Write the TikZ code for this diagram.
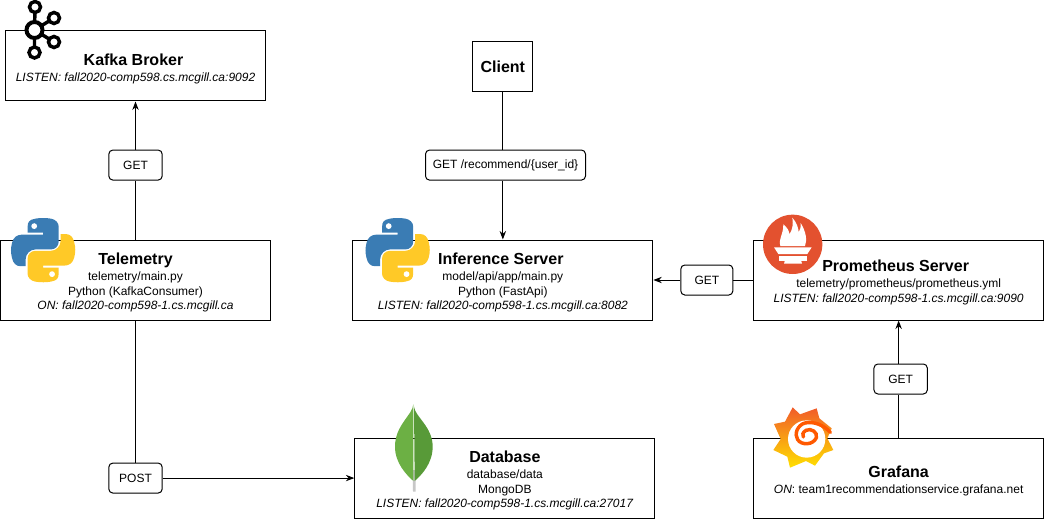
\documentclass[tikz,border=0pt]{standalone}
\usepackage{fontspec}
\setmainfont{Liberation Sans}
\usepackage{xcolor}
\usetikzlibrary{arrows.meta,positioning,calc}
\definecolor{pyblue}{HTML}{3A7CB4}
\definecolor{pyyellow}{HTML}{FFC927}
\definecolor{promorange}{HTML}{E3512F}
\definecolor{leaflight}{HTML}{6CB044}
\definecolor{leafdark}{HTML}{589A38}
\definecolor{grafhigh}{HTML}{F15B2A}
\definecolor{graflow}{HTML}{FFE000}
\newcommand{\boxtitle}[1]{{\fontsize{12}{14}\selectfont\bfseries\rule{0pt}{12.5pt}#1}}
\newcommand{\snakepath}{(54.9,0) .. controls (50.3,0) and (46,.4) .. (42.1,1.1) .. controls (30.8,3.1) and (28.7,7.3) .. (28.7,15) -- (28.7,25.3) -- (55.5,25.3) -- (55.5,28.7) -- (18.6,28.7) .. controls (10.8,28.7) and (4,33.4) .. (1.9,42.3) .. controls (-.6,52.5) and (-.7,58.9) .. (1.9,69.5) .. controls (3.8,77.5) and (8.3,83.1) .. (16.1,83.1) -- (25.3,83.1) -- (25.3,70.9) .. controls (25.3,62) and (33,54.2) .. (42.1,54.2) -- (68.9,54.2) .. controls (76.3,54.2) and (82.3,48.1) .. (82.3,40.6) -- (82.3,15) .. controls (82.3,7.8) and (76.2,2.3) .. (68.9,1.1) .. controls (64.3,.3) and (59.5,0) .. (54.9,0) -- cycle}
% python logo, #1 is its top left corner
\newcommand{\pythonlogo}[1]{
\begin{scope}[shift={#1},scale=.58]
\fill[pyblue] \snakepath;
\fill[white] (40,14) circle (5);
\begin{scope}[rotate around={180:(55.4,55.4)}]
\fill[pyyellow] \snakepath;
\fill[white] (40,14) circle (5);
\end{scope}
\end{scope}}

\begin{document}
\begin{tikzpicture}[x=.75pt,y=-.75pt,font=\fontsize{9}{10.9}\selectfont,>=Stealth,line width=.75pt]
\tikzstyle{blk}=[draw,fill=white,minimum height=60pt,align=center,inner sep=0pt]
\tikzstyle{lbl}=[draw,rounded corners=3pt,fill=white,minimum height=22.5pt,inner sep=0pt]
\tikzstyle{conn}=[->,shorten >=0pt]
\useasboundingbox (0,0) rectangle (1044,520);
\node[blk,minimum width=202.5pt] (telemetry) at (135.5,280) {\boxtitle{Telemetry}\\[1pt]telemetry/main.py\\Python (KafkaConsumer)\\\textit{ON: fall2020-comp598-1.cs.mcgill.ca}};
\node[blk,minimum width=195.5pt,minimum height=52.5pt,above=103.5pt of telemetry] (kafka) {\boxtitle{Kafka Broker\hspace*{3pt}}\\[1pt]\textit{LISTEN: fall2020-comp598.cs.mcgill.ca:9092}};
\node[blk,minimum width=225pt,right=61pt of telemetry] (inference) {\boxtitle{Inference Server\hspace*{3pt}}\\[1pt]model/api/app/main.py\\Python (FastApi)\\\textit{LISTEN: fall2020-comp598-1.cs.mcgill.ca:8082}};
\node[blk,minimum width=45pt,minimum height=37.5pt,font=\fontsize{12}{14}\selectfont\bfseries,above=110.6pt of inference] (client) {Client};
\node[blk,minimum width=217pt,right=75.1pt of inference] (prometheus) {\boxtitle{Prometheus Server\hspace*{4.5pt}}\\[1pt]telemetry/prometheus/prometheus.yml\\\textit{LISTEN: fall2020-comp598-1.cs.mcgill.ca:9090}};
\node[blk,minimum width=225pt,below=87.8pt of inference,xshift=1.5pt] (database) {\boxtitle{Database}\\[1pt]database/data\\MongoDB\\\textit{LISTEN: fall2020-comp598-1.cs.mcgill.ca:27017}};
\node[blk,minimum width=217pt,below=87.8pt of prometheus] (grafana) {\boxtitle{Grafana}\\[1pt]\textit{ON}: team1recommendationservice.grafana.net};

\node[lbl,minimum width=40pt,above=44.2pt of telemetry] (getkafka) {GET};
\node[lbl,minimum width=120pt,above=44.2pt of inference,xshift=2pt] (getclient) {GET /recommend/\{user\_id\}};
\node[lbl,minimum width=39pt,right=20.25pt of inference] (getinference) {GET};
\node[lbl,minimum width=40pt,above=32.3pt of grafana,xshift=1.5pt] (getprometheus) {GET};
\node[lbl,minimum width=40pt] (post) at (telemetry |- database) {POST};

\draw (telemetry)--(getkafka);
\draw[conn] (getkafka)--(kafka);
\draw (client)--(client |- getclient.north);
\draw[conn] (client |- getclient.south)--(inference);
\draw (prometheus)--(getinference);
\draw[conn] (getinference)--(inference);
\draw (grafana)--(grafana |- getprometheus.south);
\draw[conn] (grafana |- getprometheus.north)--(prometheus);
\draw (telemetry)--(post);
\draw[conn] (post)--(database);

% kafka logo
\begin{scope}[line width=2.6pt]
\draw (34.5,30)--(35,7) (34.5,30)--(34.5,52.5) (34.5,30)--(54,18) (34.5,30)--(54,42);
\draw[fill=white,line width=3pt] (34.5,30) circle (8);
\draw[fill=white] (35,7) circle (5.5) (34.5,52.5) circle (5.5) (54,18) circle (5.5) (54,42) circle (5.5);
\end{scope}
\pythonlogo{(11,218)}
\pythonlogo{(365.5,218)}
% prometheus logo
\begin{scope}[shift={(750,205)},scale=1/3]
\fill[promorange] (128,118) circle (89);
\fill[white] (91,123) .. controls (85,100) and (100,90) .. (100,58) .. controls (112,68) and (118,78) .. (118,88) .. controls (128,75) and (130,55) .. (127,38) .. controls (140,52) and (146,72) .. (146,82) .. controls (152,75) and (152,65) .. (152,54) .. controls (168,80) and (172,105) .. (165,123) -- cycle;
\fill[white] (72,127)--(185,127)--(172,147)--(85,147)--cycle;
\fill[white] (87,152)--(170,152)--(170,169)--(87,169)--cycle;
\fill[white] (102,176)--(156,176) arc (0:-180:27 and 20)--cycle;
\end{scope}
% grafana logo
\begin{scope}[shift={(750,395)},scale=1/3]
\shade[top color=grafhigh,bottom color=graflow] (128,37)--(150,58)--(200,40)--(208,70)--(245,100)--(232,130)--(250,165)--(222,175)--(195,212)--(168,198)--(120,218)--(112,185)--(70,165)--(92,132)--(72,87)--(105,80)--cycle;
\fill[white] (170,132) circle (56);
\draw[line width=2.6pt,line cap=round,color=orange!70!red] (241,112) .. controls (222,90) and (190,78) .. (165,84) .. controls (142,90) and (132,118) .. (143,134) .. controls (155,152) and (190,150) .. (199,128) .. controls (204,112) and (183,98) .. (168,106) .. controls (158,112) and (156,120) .. (160,126);
\end{scope}
% mongodb logo
\begin{scope}[shift={(350,395)},scale=1/3]
\fill[black!22] (188,225)--(197,225)--(197,290)--(189,290)--cycle;
\fill[leaflight] (190,28) .. controls (188,60) and (135,90) .. (135,155) .. controls (135,205) and (170,240) .. (190,258) -- cycle;
\fill[leafdark] (192,35) .. controls (195,65) and (248,95) .. (248,155) .. controls (248,205) and (215,240) .. (194,258) -- cycle;
\end{scope}
\end{tikzpicture}
\end{document}
